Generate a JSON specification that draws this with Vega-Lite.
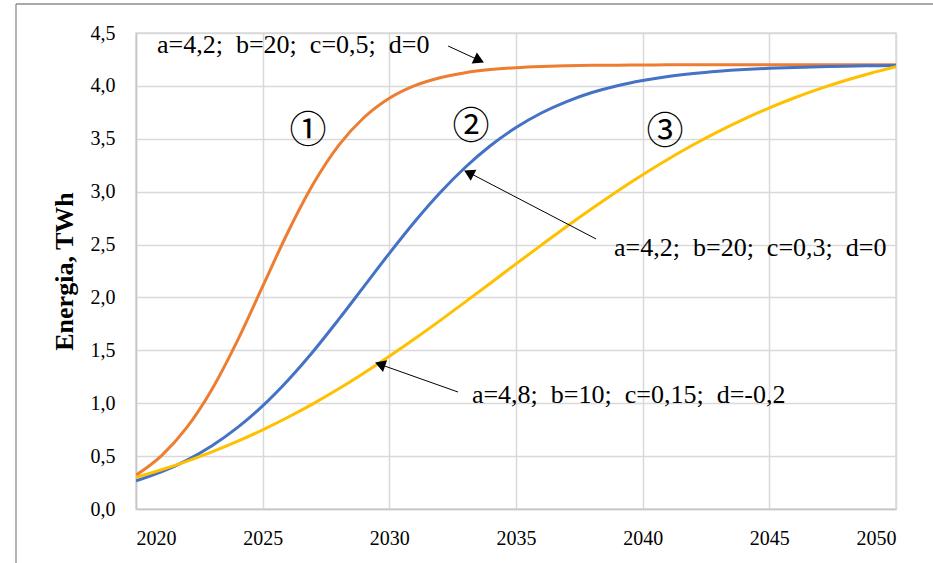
{
  "$schema": "https://vega.github.io/schema/vega-lite/v6.json",
  "width": 760,
  "height": 476,
  "autosize": {"type": "none"},
  "padding": {"left": 136, "top": 33, "right": 37, "bottom": 54},
  "background": "white",
  "config": {
    "view": {"stroke": "#d9d9d9", "strokeWidth": 1.5},
    "font": "Liberation Serif, serif",
    "axis": {
      "labelFont": "Liberation Serif, serif",
      "titleFont": "Liberation Serif, serif",
      "labelColor": "#000000",
      "titleColor": "#000000",
      "gridColor": "#d9d9d9",
      "gridWidth": 1.5,
      "domainColor": "#c6c6c6",
      "domainWidth": 1.5,
      "tickSize": 0,
      "labelFontSize": 20,
      "titleFontSize": 26
    }
  },
  "datasets": {
    "curves": [
      {"year":2020,"s":"1","v":0.320},{"year":2021,"s":"1","v":0.503},{"year":2022,"s":"1","v":0.769},{"year":2023,"s":"1","v":1.133},{"year":2024,"s":"1","v":1.590},{"year":2025,"s":"1","v":2.105},{"year":2026,"s":"1","v":2.619},{"year":2027,"s":"1","v":3.074},{"year":2028,"s":"1","v":3.437},{"year":2029,"s":"1","v":3.701},{"year":2030,"s":"1","v":3.883},{"year":2031,"s":"1","v":4.002},{"year":2032,"s":"1","v":4.077},{"year":2033,"s":"1","v":4.125},{"year":2034,"s":"1","v":4.154},{"year":2035,"s":"1","v":4.172},{"year":2036,"s":"1","v":4.183},{"year":2037,"s":"1","v":4.190},{"year":2038,"s":"1","v":4.194},{"year":2039,"s":"1","v":4.196},{"year":2040,"s":"1","v":4.198},{"year":2041,"s":"1","v":4.199},{"year":2042,"s":"1","v":4.199},{"year":2043,"s":"1","v":4.200},{"year":2044,"s":"1","v":4.200},{"year":2045,"s":"1","v":4.200},{"year":2046,"s":"1","v":4.200},{"year":2047,"s":"1","v":4.200},{"year":2048,"s":"1","v":4.200},{"year":2049,"s":"1","v":4.200},{"year":2050,"s":"1","v":4.200},
      {"year":2020,"s":"2","v":0.266},{"year":2021,"s":"2","v":0.351},{"year":2022,"s":"2","v":0.460},{"year":2023,"s":"2","v":0.598},{"year":2024,"s":"2","v":0.769},{"year":2025,"s":"2","v":0.975},{"year":2026,"s":"2","v":1.218},{"year":2027,"s":"2","v":1.492},{"year":2028,"s":"2","v":1.792},{"year":2029,"s":"2","v":2.104},{"year":2030,"s":"2","v":2.417},{"year":2031,"s":"2","v":2.716},{"year":2032,"s":"2","v":2.990},{"year":2033,"s":"2","v":3.231},{"year":2034,"s":"2","v":3.436},{"year":2035,"s":"2","v":3.606},{"year":2036,"s":"2","v":3.744},{"year":2037,"s":"2","v":3.852},{"year":2038,"s":"2","v":3.937},{"year":2039,"s":"2","v":4.002},{"year":2040,"s":"2","v":4.051},{"year":2041,"s":"2","v":4.089},{"year":2042,"s":"2","v":4.117},{"year":2043,"s":"2","v":4.138},{"year":2044,"s":"2","v":4.154},{"year":2045,"s":"2","v":4.166},{"year":2046,"s":"2","v":4.175},{"year":2047,"s":"2","v":4.181},{"year":2048,"s":"2","v":4.186},{"year":2049,"s":"2","v":4.190},{"year":2050,"s":"2","v":4.192},
      {"year":2020,"s":"3","v":0.300},{"year":2021,"s":"3","v":0.371},{"year":2022,"s":"3","v":0.451},{"year":2023,"s":"3","v":0.540},{"year":2024,"s":"3","v":0.639},{"year":2025,"s":"3","v":0.748},{"year":2026,"s":"3","v":0.867},{"year":2027,"s":"3","v":0.996},{"year":2028,"s":"3","v":1.136},{"year":2029,"s":"3","v":1.286},{"year":2030,"s":"3","v":1.444},{"year":2031,"s":"3","v":1.609},{"year":2032,"s":"3","v":1.781},{"year":2033,"s":"3","v":1.958},{"year":2034,"s":"3","v":2.137},{"year":2035,"s":"3","v":2.317},{"year":2036,"s":"3","v":2.495},{"year":2037,"s":"3","v":2.671},{"year":2038,"s":"3","v":2.841},{"year":2039,"s":"3","v":3.005},{"year":2040,"s":"3","v":3.160},{"year":2041,"s":"3","v":3.307},{"year":2042,"s":"3","v":3.443},{"year":2043,"s":"3","v":3.570},{"year":2044,"s":"3","v":3.686},{"year":2045,"s":"3","v":3.792},{"year":2046,"s":"3","v":3.888},{"year":2047,"s":"3","v":3.974},{"year":2048,"s":"3","v":4.051},{"year":2049,"s":"3","v":4.120},{"year":2050,"s":"3","v":4.181}
    ],
    "arrows": [
      {"x1":2032.32,"y1":4.377,"x2":2033.60,"y2":4.236},
      {"x1":2038.16,"y1":2.553,"x2":2033.10,"y2":3.185},
      {"x1":2032.71,"y1":1.106,"x2":2029.60,"y2":1.370}
    ],
    "heads": [
      {"x":2033.48,"y":4.250,"angle":114.6},
      {"x":2033.20,"y":3.170,"angle":297.4},
      {"x":2029.70,"y":1.362,"angle":289.5}
    ],
    "labels": [
      {"x":2020.83,"y":4.311,"t":"a=4,2; \u00a0b=20; \u00a0c=0,5; \u00a0d=0"},
      {"x":2038.87,"y":2.392,"t":"a=4,2; \u00a0b=20; \u00a0c=0,3; \u00a0d=0"},
      {"x":2033.26,"y":1.002,"t":"a=4,8; \u00a0b=10; \u00a0c=0,15; \u00a0d=-0,2"}
    ],
    "nums": [
      {"x":2026.79,"y":3.564,"t":"①"},
      {"x":2033.22,"y":3.602,"t":"②"},
      {"x":2040.88,"y":3.555,"t":"③"}
    ],
    "frame": [
      {"x1":2015.263,"y1":-1,"x2":2015.263,"y2":4.774},
      {"x1":2015.263,"y1":4.774,"x2":2055,"y2":4.774}
    ]
  },
  "layer": [
    {
      "data": {"name": "curves"},
      "mark": {"type": "line", "interpolate": "monotone", "strokeWidth": 3, "clip": true},
      "encoding": {
        "x": {
          "field": "year", "type": "quantitative",
          "scale": {"domain": [2020, 2050], "nice": false, "zero": false},
          "axis": {"values": [2020,2025,2030,2035,2040,2045,2050], "format": "d", "title": null, "labelPadding": 19, "grid": true, "domain": true}
        },
        "y": {
          "field": "v", "type": "quantitative",
          "scale": {"domain": [0, 4.5], "nice": false},
          "axis": {
            "values": [0,0.5,1,1.5,2,2.5,3,3.5,4,4.5],
            "labelExpr": "replace(format(datum.value, '.1f'), '.', ',')",
            "title": "Energia, TWh",
            "titleFontWeight": "bold",
            "titleX": -72,
            "titleY": 238,
            "titleAngle": -90,
            "titleAlign": "center",
            "titleBaseline": "middle",
            "labelPadding": 21,
            "grid": true
          }
        },
        "color": {
          "field": "s", "type": "nominal",
          "scale": {"domain": ["1","2","3"], "range": ["#ED7D31", "#4472C4", "#FFC000"]},
          "legend": null
        }
      }
    },
    {
      "data": {"name": "frame"},
      "mark": {"type": "rule", "color": "#8c8c8c", "strokeWidth": 1.3, "clip": false},
      "encoding": {
        "x": {"field": "x1", "type": "quantitative"},
        "y": {"field": "y1", "type": "quantitative"},
        "x2": {"field": "x2"},
        "y2": {"field": "y2"}
      }
    },
    {
      "data": {"name": "arrows"},
      "mark": {"type": "rule", "color": "#000000", "strokeWidth": 1},
      "encoding": {
        "x": {"field": "x1", "type": "quantitative"},
        "y": {"field": "y1", "type": "quantitative"},
        "x2": {"field": "x2"},
        "y2": {"field": "y2"}
      }
    },
    {
      "data": {"name": "heads"},
      "mark": {"type": "point", "shape": "triangle", "filled": true, "color": "#000000", "size": 150, "opacity": 1},
      "encoding": {
        "x": {"field": "x", "type": "quantitative"},
        "y": {"field": "y", "type": "quantitative"},
        "angle": {"field": "angle", "type": "quantitative", "scale": null}
      }
    },
    {
      "data": {"name": "labels"},
      "mark": {"type": "text", "font": "Liberation Serif, serif", "fontSize": 26, "align": "left", "baseline": "alphabetic", "color": "#000000"},
      "encoding": {
        "x": {"field": "x", "type": "quantitative"},
        "y": {"field": "y", "type": "quantitative"},
        "text": {"field": "t"}
      }
    },
    {
      "data": {"name": "nums"},
      "mark": {"type": "text", "font": "Noto Sans CJK JP", "fontSize": 37, "align": "center", "baseline": "middle", "color": "#000000"},
      "encoding": {
        "x": {"field": "x", "type": "quantitative"},
        "y": {"field": "y", "type": "quantitative"},
        "text": {"field": "t"}
      }
    }
  ]
}
